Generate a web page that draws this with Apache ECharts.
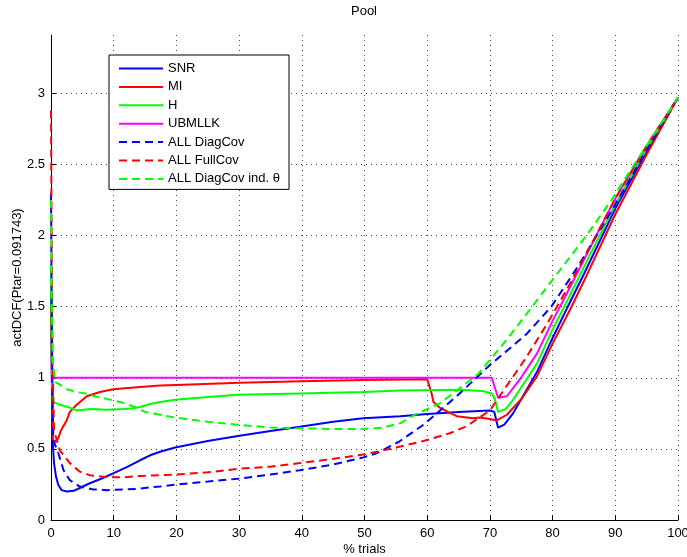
<!DOCTYPE html>
<html><head><meta charset="utf-8">
<script src="https://cdn.jsdelivr.net/npm/echarts@6/dist/echarts.min.js"></script>
<style>html,body{margin:0;padding:0;background:#fff}#c{width:687px;height:557px}</style>
</head><body><div id="c"></div>
<script>
// ---- data ----
const seriesNames = ['SNR', 'MI', 'H', 'UBMLLK', 'ALL DiagCov', 'ALL FullCov', 'ALL DiagCov ind. \u03b8'];
const xTicks = [0, 10, 20, 30, 40, 50, 60, 70, 80, 90, 100];
const yTicks = [0, 0.5, 1, 1.5, 2, 2.5, 3];

const snrX = [0, 0.1, 0.2, 0.27, 0.48, 0.8, 1.17, 1.7, 2.5, 3.6, 4.6, 6, 8, 10, 12, 14.2, 15.8, 17.4, 19.8, 25, 29.8, 35, 39.7, 45, 49.8, 55.7, 60, 65, 70, 70.7, 71.3, 72.3, 73.7, 77.5, 80, 82.2, 85, 90, 95, 100];
const snrY = [1.6, 1.1, 0.7, 0.55, 0.40, 0.305, 0.246, 0.21, 0.20, 0.205, 0.225, 0.255, 0.29, 0.33, 0.37, 0.42, 0.455, 0.48, 0.51, 0.555, 0.59, 0.625, 0.655, 0.69, 0.715, 0.73, 0.745, 0.76, 0.77, 0.76, 0.65, 0.67, 0.75, 1.04, 1.28, 1.48, 1.73, 2.19, 2.59, 2.97];

const miX = [0, 0.1, 0.2, 0.27, 0.64, 1.17, 1.5, 1.97, 2.5, 3.0, 4.1, 5.7, 7.8, 9.9, 14.2, 17.4, 20, 30, 40, 50, 60, 60.3, 60.7, 61, 62, 63.3, 64.7, 67.3, 68.4, 70, 71.1, 72.7, 75, 77.5, 80, 82.8, 85, 90, 95, 100];
const miY = [1.5, 1.2, 0.8, 0.56, 0.55, 0.575, 0.62, 0.66, 0.70, 0.76, 0.81, 0.87, 0.90, 0.92, 0.935, 0.945, 0.95, 0.965, 0.975, 0.985, 0.99, 0.99, 0.89, 0.83, 0.79, 0.76, 0.73, 0.716, 0.72, 0.71, 0.70, 0.74, 0.85, 1.01, 1.24, 1.48, 1.68, 2.15, 2.57, 2.97];

const hX = [0, 0.1, 0.2, 0.37, 1.4, 3.0, 4.1, 6.3, 8.9, 11.5, 13, 14.2, 15.8, 17.4, 19.8, 25, 29.8, 39.7, 49.8, 55.7, 65.7, 69, 70.3, 70.8, 71.3, 72.5, 73.7, 77.5, 80, 82.2, 85, 90, 95, 100];
const hY = [1.8, 1.3, 0.95, 0.83, 0.81, 0.79, 0.77, 0.78, 0.775, 0.78, 0.785, 0.795, 0.815, 0.83, 0.845, 0.865, 0.88, 0.89, 0.90, 0.91, 0.915, 0.905, 0.89, 0.85, 0.76, 0.78, 0.845, 1.10, 1.34, 1.53, 1.78, 2.22, 2.61, 2.97];

const ubmX = [0, 70.3, 70.8, 71.3, 72.7, 74.8, 77.5, 80, 82, 85, 90, 95, 100];
const ubmY = [1.0, 1.0, 0.93, 0.86, 0.87, 0.99, 1.17, 1.40, 1.57, 1.83, 2.26, 2.63, 2.97];

const diagX = [0, 0.1, 0.2, 0.37, 1.17, 2, 3, 4.6, 6.75, 8.9, 11.5, 14.2, 15.8, 17.4, 20, 25, 29.8, 35, 39.7, 45, 49.8, 52, 54.1, 55.5, 59.4, 64.7, 70, 73, 75.9, 79.8, 84, 87.6, 90, 95, 100];
const diagY = [2.3, 1.6, 1.0, 0.56, 0.47, 0.35, 0.28, 0.235, 0.215, 0.21, 0.215, 0.22, 0.23, 0.235, 0.25, 0.27, 0.29, 0.32, 0.35, 0.39, 0.44, 0.47, 0.52, 0.55, 0.67, 0.87, 1.09, 1.20, 1.31, 1.50, 1.78, 2.04, 2.22, 2.6, 2.97];

const fullX = [0, 0.1, 0.2, 0.48, 1.4, 3, 4.6, 6.2, 8.9, 11.5, 14.2, 17.4, 20, 25, 29.8, 35, 39.7, 45, 49.8, 54.6, 59.4, 63.6, 66.3, 70, 72, 75.6, 79, 82, 85, 90, 95, 100];
const fullY = [2.88, 2.0, 1.2, 0.63, 0.49, 0.40, 0.34, 0.315, 0.30, 0.30, 0.31, 0.315, 0.32, 0.335, 0.36, 0.375, 0.40, 0.43, 0.46, 0.505, 0.555, 0.61, 0.66, 0.77, 0.90, 1.13, 1.37, 1.60, 1.84, 2.26, 2.63, 2.97];

const indX = [0, 0.1, 0.3, 0.7, 1.5, 2.5, 4, 5.5, 7, 9, 11, 13, 15, 17.4, 19.8, 25, 29.8, 35, 39.7, 45, 49.8, 53, 55.7, 58, 62, 65, 68.2, 72.9, 76.9, 80, 85.4, 89.4, 92, 96, 100];
const indY = [2.25, 1.6, 1.1, 0.97, 0.95, 0.92, 0.90, 0.89, 0.87, 0.85, 0.83, 0.80, 0.76, 0.74, 0.72, 0.69, 0.67, 0.65, 0.645, 0.64, 0.64, 0.65, 0.68, 0.74, 0.82, 0.92, 1.03, 1.28, 1.51, 1.69, 2.0, 2.25, 2.43, 2.7, 2.97];

// ---- chart ----
const FONT = "'Liberation Sans', Arial, Helvetica, sans-serif";
const zip = (xs, ys) => xs.map((x, i) => [x, ys[i]]);
const defs = [
  [snrX, snrY, '#0000ff', 'solid'],
  [miX, miY, '#ff0000', 'solid'],
  [hX, hY, '#00ff00', 'solid'],
  [ubmX, ubmY, '#ff00ff', 'solid'],
  [diagX, diagY, '#0000ff', [8, 5]],
  [fullX, fullY, '#ff0000', [8, 5]],
  [indX, indY, '#00ff00', [8, 5]]
];
const series = defs.map((d, i) => ({
  name: seriesNames[i],
  type: 'line',
  data: zip(d[0], d[1]),
  symbol: 'none',
  showSymbol: false,
  smooth: false,
  clip: true,
  color: d[2],
  lineStyle: { color: d[2], width: 2, type: d[3] },
  emphasis: { disabled: true }
}));

const chart = echarts.init(document.getElementById('c'), null, { renderer: 'canvas' });
chart.setOption({
  animation: false,
  backgroundColor: '#fff',
  textStyle: { fontFamily: FONT },
  title: {
    text: 'Pool', left: 364, top: 5, textAlign: 'center', padding: 0,
    textStyle: { fontSize: 13, fontWeight: 'normal', color: '#000', fontFamily: FONT }
  },
  grid: { left: 51, right: 9, top: 35, bottom: 37, containLabel: false, outerBoundsMode: 'none' },
  legend: {
    data: seriesNames, orient: 'vertical', left: 109, top: 55,
    padding: [7, 9, 4, 9], itemGap: 5.4, itemWidth: 44, itemHeight: 14,
    backgroundColor: '#fff', borderColor: '#000', borderWidth: 1,
    selectedMode: false,
    itemStyle: { opacity: 0 },
    textStyle: { fontSize: 13, color: '#000', fontFamily: FONT }
  },
  xAxis: {
    type: 'value', min: xTicks[0], max: xTicks[xTicks.length - 1], interval: 10,
    name: '% trials', nameLocation: 'middle', nameGap: 23, nameMoveOverlap: false,
    nameTextStyle: { fontSize: 13, color: '#000', fontFamily: FONT },
    axisLine: { show: true, onZero: false, lineStyle: { color: '#000', width: 1 } },
    axisTick: { show: true, inside: true, length: 5, lineStyle: { color: '#000' } },
    axisLabel: { fontSize: 13, color: '#000', margin: 7, fontFamily: FONT },
    splitLine: { show: true, showMinLine: false, lineStyle: { color: '#444', width: 1, type: [1, 4] } }
  },
  yAxis: {
    type: 'value', min: yTicks[0], max: 3.41, interval: 0.5,
    name: 'actDCF(Ptar=0.091743)', nameLocation: 'middle', nameGap: 27, nameMoveOverlap: false,
    nameTextStyle: { fontSize: 13, color: '#000', fontFamily: FONT },
    axisLine: { show: true, onZero: false, lineStyle: { color: '#000', width: 1 } },
    axisTick: { show: true, inside: true, length: 5, lineStyle: { color: '#000' } },
    axisLabel: { fontSize: 13, color: '#000', margin: 6, showMaxLabel: false, fontFamily: FONT,
      formatter: v => (yTicks.indexOf(v) >= 0 ? String(v) : '') },
    splitLine: { show: true, showMinLine: false, showMaxLine: false, lineStyle: { color: '#444', width: 1, type: [1, 4] } }
  },
  series: series
});
</script></body></html>
